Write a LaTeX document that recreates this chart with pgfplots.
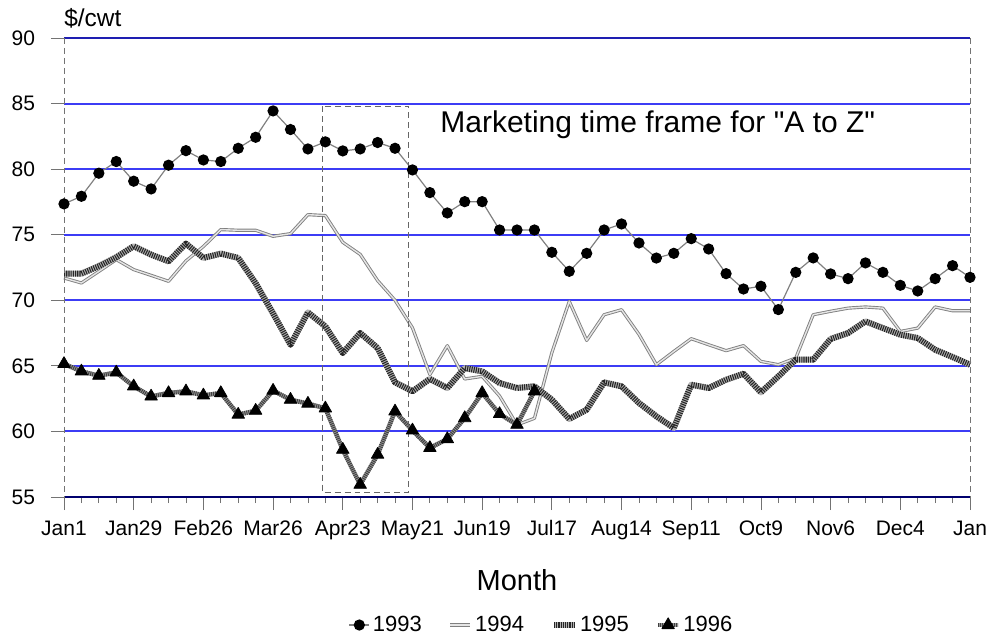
\documentclass[border=0pt]{standalone}
\usepackage{fontspec}
\setmainfont{Liberation Sans}
\newfontfamily\plainquote{Liberation Sans}[Ligatures=TeXOff]
\usepackage{pgfplots}
\pgfplotsset{compat=1.18}
\definecolor{gridblue}{RGB}{60,60,245}
\definecolor{navyb}{RGB}{0,0,110}
\begin{document}
\begin{tikzpicture}
\begin{axis}[
  scale only axis, width=453bp, height=229.5bp,
  xmin=0, xmax=52, ymin=55, ymax=90,
  axis line style={draw=none},
  clip=false,
  /pgf/number format/assume math mode=true,
  xtick={0,4,...,52},
  xticklabels={Jan1,Jan29,Feb26,Mar26,Apr23,May21,Jun19,Jul17,Aug14,Sep11,Oct9,Nov6,Dec4,Jan},
  minor xtick={0,1,...,52},
  ytick={55,60,...,90},
  xtick pos=left, ytick pos=left,
  tick align=outside,
  major tick length=6.5bp, minor tick length=3bp,
  every tick/.style={black!55, line width=0.4bp},
  ymajorgrids, grid style={gridblue, line width=1bp},
  xticklabel style={font=\fontsize{10.5bp}{12bp}\selectfont, text height=8bp, text depth=2bp, yshift=-1bp},
  yticklabel style={font=\fontsize{10.5bp}{12bp}\selectfont, xshift=-4.5bp},
  xlabel={Month},
  xlabel style={at={(axis description cs:0.5,-0.181)}, anchor=center, font=\fontsize{14.5bp}{17bp}\selectfont},
  legend style={at={(axis description cs:0.5276,-0.2789)}, anchor=center, draw=none, fill=none,
    legend columns=4, font=\fontsize{11bp}{13bp}\selectfont,
    /tikz/every even column/.append style={column sep=12bp},
    nodes={inner sep=1.5bp}},
  legend image code/.code={\draw[mark repeat=2,mark phase=2,#1] plot coordinates {(0bp,0bp) (5bp,0bp) (10bp,0bp)};},
]
\coordinate (bl) at (rel axis cs:0,0);
\coordinate (tr) at (rel axis cs:1,1);

\addplot[black!50, line width=0.6bp, mark=*, mark size=2.5bp, mark options={black, fill=black, solid}] coordinates {
(0,77.35)(1,77.93)(2,79.69)(3,80.58)(4,79.08)(5,78.49)(6,80.30)(7,81.41)(8,80.70)(9,80.58)
(10,81.59)(11,82.43)(12,84.44)(13,83.02)(14,81.54)(15,82.08)(16,81.39)(17,81.54)(18,82.03)(19,81.59)
(20,79.94)(21,78.21)(22,76.66)(23,77.52)(24,77.52)(25,75.36)(26,75.36)(27,75.36)(28,73.66)(29,72.21)
(30,73.58)(31,75.36)(32,75.82)(33,74.37)(34,73.22)(35,73.58)(36,74.70)(37,73.91)(38,72.03)(39,70.86)
(40,71.07)(41,69.29)(42,72.13)(43,73.23)(44,72.01)(45,71.65)(46,72.85)(47,72.13)(48,71.14)(49,70.71)
(50,71.65)(51,72.64)(52,71.75)};
\addlegendentry{1993}

\addplot[draw=black!50, line width=0.45bp, double=black!10, double distance=0.7bp, line join=round, no marks] coordinates {
(0,71.70)(1,71.32)(2,72.2)(3,73.1)(4,72.34)(5,71.9)(6,71.45)(7,73.0)(8,74.1)(9,75.39)
(10,75.34)(11,75.34)(12,74.88)(13,75.08)(14,76.53)(15,76.46)(16,74.42)(17,73.5)(18,71.5)(19,70.0)
(20,67.9)(21,64.33)(22,66.54)(23,64.0)(24,64.2)(25,62.7)(26,60.5)(27,61.0)(28,66.0)(29,69.92)
(30,66.94)(31,68.9)(32,69.28)(33,67.4)(34,65.09)(35,66.1)(36,67.07)(37,66.61)(38,66.16)(39,66.54)
(40,65.34)(41,65.09)(42,65.6)(43,68.9)(44,69.16)(45,69.4)(46,69.49)(47,69.4)(48,67.62)(49,67.88)
(50,69.49)(51,69.2)(52,69.2)};
\addlegendentry{1994}

\addplot[draw=black!30, line width=3bp, line join=round, no marks,
  postaction={draw=black!85, line width=3bp, dash pattern=on 0.55bp off 0.55bp}] coordinates {
(0,72.03)(1,72.03)(2,72.6)(3,73.28)(4,74.12)(5,73.48)(6,72.97)(7,74.32)(8,73.23)(9,73.56)
(10,73.23)(11,71.3)(12,69.0)(13,66.61)(14,69.08)(15,68.01)(16,65.98)(17,67.5)(18,66.36)(19,63.74)
(20,63.06)(21,64.0)(22,63.31)(23,64.83)(24,64.58)(25,63.69)(26,63.31)(27,63.44)(28,62.42)(29,60.95)
(30,61.66)(31,63.74)(32,63.44)(33,62.17)(34,61.15)(35,60.26)(36,63.56)(37,63.31)(38,63.94)(39,64.40)
(40,62.98)(41,64.2)(42,65.47)(43,65.47)(44,67.05)(45,67.5)(46,68.39)(47,67.88)(48,67.38)(49,67.12)
(50,66.23)(51,65.67)(52,65.09)};
\addlegendentry{1995}

\addplot[draw=black!40, line width=2.2bp, line join=round,
  postaction={draw=black!75, line width=2.2bp, dash pattern=on 0.5bp off 0.5bp},
  mark=triangle*, mark size=3.6bp, mark options={black, fill=black, solid, line width=0.4bp}] coordinates {
(0,65.15)(1,64.58)(2,64.25)(3,64.50)(4,63.44)(5,62.67)(6,62.93)(7,63.06)(8,62.75)(9,62.93)
(10,61.28)(11,61.58)(12,63.11)(13,62.42)(14,62.12)(15,61.76)(16,58.61)(17,55.94)(18,58.23)(19,61.53)
(20,60.08)(21,58.74)(22,59.42)(23,61.02)(24,62.93)(25,61.33)(26,60.51)(27,63.06)};
\addlegendentry{1996}

\draw[navyb, line width=1bp] (rel axis cs:0,0) -- (rel axis cs:1,0);
\draw[navyb!50!gridblue, line width=1bp] (rel axis cs:0,1) -- (rel axis cs:1,1);
\draw[black!55, densely dashed, line width=0.4bp] (axis cs:0,90) -- ([yshift=-6.5bp]axis cs:0,55);
\draw[black!55, densely dashed, line width=0.4bp] (axis cs:52,90) -- ([yshift=-6.5bp]axis cs:52,55);
\draw[black!60, densely dashed, line width=0.5bp] (axis cs:14.81,84.81) rectangle (axis cs:19.8,55.38);

\node[anchor=base west, font=\fontsize{15bp}{18bp}\plainquote, inner sep=0pt] at (axis cs:21.58,82.83) {Marketing time frame for "A to Z"};
\node[anchor=base west, font=\fontsize{12.2bp}{14bp}\selectfont, inner sep=0pt] at ([yshift=5.5bp]rel axis cs:0,1) {\$/cwt};
\end{axis}
\pgfresetboundingbox
\path[use as bounding box] ([shift={(-32bp,-71bp)}]bl) rectangle ([shift={(10.5bp,19bp)}]tr);
\end{tikzpicture}
\end{document}
